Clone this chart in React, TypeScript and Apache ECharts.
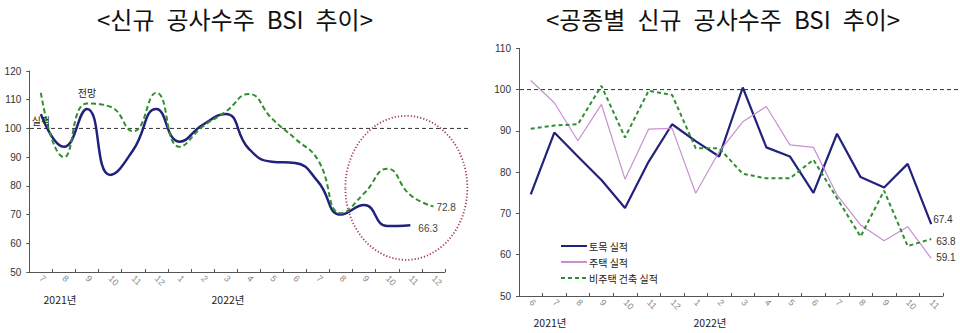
import React, { useEffect, useRef } from "react";
import * as echarts from "echarts";

// Left panel: 신규 공사수주 BSI 추이
const leftCategories = ["7", "8", "9", "10", "11", "12", "1", "2", "3", "4", "5", "6", "7", "8", "9", "10", "11", "12"];
const leftActual = [105, 93.6, 106.8, 83.8, 92.5, 106.8, 95.4, 101.2, 105, 93, 88.4, 88, 81.5, 70, 73.3, 66, 66.3];
const leftForecast = [112.4, 90, 108.7, 107.6, 99, 112.4, 93.6, 100.6, 105.8, 112, 103.5, 96.5, 89, 70.5, 77.4, 86, 76.8, 72.8];
const leftYTicks = { min: 50, max: 120, interval: 10 };

// Right panel: 공종별 신규 공사수주 BSI 추이
const rightCategories = ["6", "7", "8", "9", "10", "11", "12", "1", "2", "3", "4", "5", "6", "7", "8", "9", "10", "11"];
const civilActual = [74.6, 89.6, 83.8, 78.1, 71.3, 82.5, 91.6, 87.5, 83.8, 100.5, 86, 83.8, 75, 89.3, 78.8, 76.3, 82, 67.4];
const housingActual = [102.2, 96.8, 87.6, 96.4, 78.3, 90.4, 90.6, 74.9, 85, 92.2, 95.9, 86.6, 86, 74.5, 67.2, 63.4, 66.8, 59.1];
const nonResActual = [90.5, 91.3, 91.6, 100.9, 88.4, 99.7, 98.7, 85.8, 85.8, 79.6, 78.5, 78.5, 83, 73.7, 64.4, 75.5, 62.1, 63.8];
const rightYTicks = { min: 50, max: 110, interval: 10 };
const baseline = 100;

const NAVY = "#22227c";
const GREEN = "#2f8f2f";
const PINK = "#c98fd2";
const KFONT = "'Noto Sans CJK KR', 'Noto Sans', sans-serif";
const NFONT = "'Liberation Sans', Arial, sans-serif";

export default function App() {
  const ref = useRef<HTMLDivElement>(null);
  useEffect(() => {
    document.body.style.margin = "0";
    const chart = echarts.init(ref.current!, null, { renderer: "svg" });
    const axisLine = { lineStyle: { color: "#555", width: 1 } };
    const xAxisCommon = {
      type: "category" as const,
      boundaryGap: true,
      axisLine,
      axisTick: { show: true, inside: true, length: 3, interval: 0, lineStyle: { color: "#555" } },
      axisLabel: { interval: 0, rotate: -45, fontSize: 9, color: "#888", margin: 5, fontFamily: NFONT },
      splitLine: { show: false },
    };
    const yAxisCommon = {
      type: "value" as const,
      axisLine: { show: true, ...axisLine },
      axisTick: { show: true, length: 3, lineStyle: { color: "#555" } },
      axisLabel: { fontSize: 10, color: "#333", margin: 8, fontFamily: NFONT },
      splitLine: { show: false },
    };
    chart.setOption({
      animation: false,
      grid: [
        { left: 29.3, top: 71, width: 415.7, height: 201 },
        { left: 519, top: 48.3, width: 424, height: 247.7 },
      ],
      xAxis: [
        { ...xAxisCommon, gridIndex: 0, data: leftCategories },
        { ...xAxisCommon, gridIndex: 1, data: rightCategories },
      ],
      yAxis: [
        { ...yAxisCommon, gridIndex: 0, ...leftYTicks },
        { ...yAxisCommon, gridIndex: 1, ...rightYTicks },
      ],
      legend: {
        orient: "vertical",
        left: 555,
        top: 236,
        itemWidth: 26,
        itemHeight: 10,
        itemGap: 6,
        itemStyle: { opacity: 0 },
        data: ["토목 실적", "주택 실적", "비주택 건축 실적"],
        textStyle: { fontSize: 10, color: "#222", fontFamily: KFONT, padding: [0, 0, 0, -3] },
      },
      series: [
        {
          name: "실적",
          type: "line",
          xAxisIndex: 0,
          yAxisIndex: 0,
          data: leftActual,
          smooth: 0.5,
          symbol: "none",
          lineStyle: { color: NAVY, width: 2.5 },
          endLabel: { show: true, formatter: "{c}", fontSize: 10, color: "#444", distance: 8, offset: [0, 3], fontFamily: NFONT },
          markPoint: {
            symbol: "circle",
            symbolSize: 0,
            data: [{ coord: [0, leftActual[0]], value: "실적" }],
            label: { show: true, formatter: "실적", position: "inside", offset: [0, 6], fontSize: 10, color: "#222", fontFamily: KFONT },
          },
        },
        {
          name: "전망",
          type: "line",
          xAxisIndex: 0,
          yAxisIndex: 0,
          data: leftForecast,
          smooth: 0.5,
          symbol: "none",
          lineStyle: { color: GREEN, width: 2, type: [5, 3] },
          endLabel: { show: true, formatter: "{c}", fontSize: 10, color: "#444", distance: 3, offset: [0, 1], fontFamily: NFONT },
          markPoint: {
            symbol: "circle",
            symbolSize: 0,
            data: [{ coord: [2, leftForecast[2]], value: "전망" }],
            label: { show: true, formatter: "전망", position: "inside", offset: [0, -11], fontSize: 10, color: "#222", fontFamily: KFONT },
          },
        },
        {
          name: "토목 실적",
          type: "line",
          xAxisIndex: 1,
          yAxisIndex: 1,
          data: civilActual,
          symbol: "none",
          lineStyle: { color: NAVY, width: 2.2 },
          itemStyle: { color: NAVY },
          endLabel: { show: true, formatter: "{c}", fontSize: 10, color: "#333", distance: 2, offset: [0, -5], fontFamily: NFONT },
        },
        {
          name: "주택 실적",
          type: "line",
          xAxisIndex: 1,
          yAxisIndex: 1,
          data: housingActual,
          symbol: "none",
          lineStyle: { color: PINK, width: 1.2 },
          itemStyle: { color: PINK },
          endLabel: { show: true, formatter: "{c}", fontSize: 10, color: "#333", distance: 5, offset: [0, -1], fontFamily: NFONT },
        },
        {
          name: "비주택 건축 실적",
          type: "line",
          xAxisIndex: 1,
          yAxisIndex: 1,
          data: nonResActual,
          symbol: "none",
          lineStyle: { color: GREEN, width: 2, type: [4, 3] },
          itemStyle: { color: GREEN },
          endLabel: { show: true, formatter: "{c}", fontSize: 10, color: "#333", distance: 5, offset: [0, 2], fontFamily: NFONT },
        },
      ],
    });

    const yL = chart.convertToPixel({ yAxisIndex: 0 }, baseline) as number;
    const yR = chart.convertToPixel({ yAxisIndex: 1 }, baseline) as number;
    const ellC = chart.convertToPixel({ xAxisIndex: 0, yAxisIndex: 0 }, [16, 79.3]) as number[];
    const txt = (t: string, x: number, y: number, size: number, color = "#222") => ({
      type: "text",
      x,
      y,
      silent: true,
      style: { text: t, fontSize: size, fill: color, fontFamily: KFONT, align: "center", verticalAlign: "middle" },
    });
    const SP = "\u2002";

    chart.setOption({
      graphic: [
        txt(`<신규${SP}공사수주${SP}BSI${SP}추이>`, 235, 18, 24, "#111"),
        txt(`<공종별${SP}신규${SP}공사수주${SP}BSI${SP}추이>`, 723, 18, 24, "#111"),
        {
          type: "line",
          silent: true,
          shape: { x1: 30, y1: yL, x2: 468, y2: yL },
          style: { stroke: "#333", lineWidth: 1, lineDash: [4, 3] },
          z: 1,
        },
        {
          type: "line",
          silent: true,
          shape: { x1: 520, y1: yR, x2: 960, y2: yR },
          style: { stroke: "#333", lineWidth: 1, lineDash: [4, 3] },
          z: 1,
        },
        {
          type: "ellipse",
          silent: true,
          shape: { cx: ellC[0] - 4, cy: ellC[1], rx: 61, ry: 72 },
          style: { fill: "none", stroke: "#a33a4a", lineWidth: 1.8, lineDash: [1.2, 2] },
          z: 10,
        },
        txt("2021년", 60, 299, 10.5),
        txt("2022년", 228, 299, 10.5),
        txt("2021년", 550, 322, 10.5),
        txt("2022년", 710, 322, 10.5),
      ],
    });

    return () => chart.dispose();
  }, []);
  return <div ref={ref} style={{ width: 960, height: 333 }} />;
}
